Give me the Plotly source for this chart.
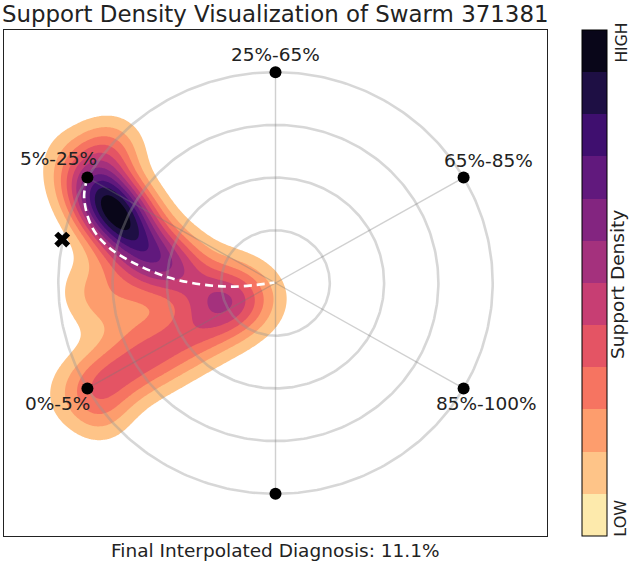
import numpy as np
import plotly.graph_objects as go
import plotly.colors as pc

# ---------------- data ----------------
title_text = "Support Density Visualization of Swarm 371381"
xlabel_text = "Final Interpolated Diagnosis: 11.1%"

vertex_angles = [90, 30, -30, -90, -150, 150]
vertex_labels = ["25%-65%", "65%-85%", "85%-100%", "", "0%-5%", "5%-25%"]
ring_radii = [0.25, 0.5, 0.75, 1.0]

# support density components (centre, spreads, rotation, weight)
comp_x = [-0.745, -0.761, -0.502, -0.225, -0.839, -0.677, -0.516, -0.355, -0.194, -0.798, -0.835, -0.683]
comp_y = [0.345, 0.640, 0.097, -0.045, -0.495, -0.410, -0.320, -0.225, -0.131, -0.642, -0.036, -0.107]
comp_sa = [0.19, 0.105, 0.14, 0.15, 0.14, 0.14, 0.14, 0.14, 0.14, 0.10, 0.12, 0.14]
comp_sb = [0.11, 0.105, 0.11, 0.12, 0.115, 0.115, 0.115, 0.115, 0.115, 0.10, 0.12, 0.14]
comp_ang = [-52, 0, -25, -10, 29.4, 29.4, 29.4, 29.4, 29.4, 0, 0, 0]
comp_w = [1.0, 0.22, 0.40, 0.30, 0.23, 0.19, 0.19, 0.19, 0.16, 0.10, 0.13, 0.13]

# interpolated path of the swarm (dashed)
path_x = [-0.866, -0.881, -0.844, -0.766, -0.647, -0.491, -0.339, -0.188, -0.005]
path_y = [0.500, 0.405, 0.263, 0.168, 0.092, 0.026, -0.007, -0.017, 0.002]

final_x = [-0.982]
final_y = [0.206]

# ---------------- density grid ----------------
gx = np.linspace(-1.25, 1.25, 321)
gy = np.linspace(-1.2, 1.2, 309)
XX, YY = np.meshgrid(gx, gy)
Z = np.zeros_like(XX)
for cx, cy, sa, sb, ang, w in zip(comp_x, comp_y, comp_sa, comp_sb, comp_ang, comp_w):
    t = np.deg2rad(ang)
    dx, dy = XX - cx, YY - cy
    u = dx * np.cos(t) + dy * np.sin(t)
    v = -dx * np.sin(t) + dy * np.cos(t)
    Z += w * np.exp(-0.5 * ((u / sa) ** 2 + (v / sb) ** 2))
Z = Z / Z.max()

n_bands = 12
band_cols = pc.sample_colorscale("Magma", [1 - (k + 0.5) / n_bands for k in range(n_bands)])  # low -> high

contour_scale = [[0, "rgb(255,255,255)"]] + [[k / 11, band_cols[k]] for k in range(1, 12)]
cbar_scale = []
for k in range(n_bands):
    cbar_scale.append([k / n_bands, band_cols[k]])
    cbar_scale.append([(k + 1) / n_bands, band_cols[k]])

FONT = "DejaVu Sans"
TXT = "#222222"

fig = go.Figure()
fig.add_trace(go.Contour(
    x=gx, y=gy, z=Z,
    contours=dict(start=1 / 12, end=11 / 12, size=1 / 12, coloring="fill", showlines=False),
    line=dict(width=0), colorscale=contour_scale, showscale=False, hoverinfo="skip",
))

# rings
th = np.linspace(0, 2 * np.pi, 361)
for r in ring_radii:
    fig.add_trace(go.Scatter(x=r * np.cos(th), y=r * np.sin(th), mode="lines",
                             line=dict(color="rgba(150,150,150,0.38)", width=2.6),
                             hoverinfo="skip", showlegend=False))
# spokes
vx = np.cos(np.deg2rad(vertex_angles))
vy = np.sin(np.deg2rad(vertex_angles))
for x1, y1 in zip(vx, vy):
    fig.add_trace(go.Scatter(x=[0, x1], y=[0, y1], mode="lines",
                             line=dict(color="rgba(120,120,120,0.35)", width=1.4),
                             hoverinfo="skip", showlegend=False))

# dashed path
fig.add_trace(go.Scatter(x=path_x, y=path_y, mode="lines",
                         line=dict(color="white", width=2.6, dash="8px,5px", shape="spline"),
                         hoverinfo="skip", showlegend=False))

# vertices
fig.add_trace(go.Scatter(x=vx, y=vy, mode="markers",
                         marker=dict(color="black", size=12), hoverinfo="skip", showlegend=False))

# final diagnosis marker
fig.add_trace(go.Scatter(x=final_x, y=final_y, mode="markers",
                         marker=dict(color="black", size=14, symbol="x", line=dict(width=0)),
                         hoverinfo="skip", showlegend=False))

# colorbar carrier
fig.add_trace(go.Scatter(x=[-5, -5], y=[-5, -5], mode="markers",
                         marker=dict(size=0.1, color=[0, n_bands], cmin=0, cmax=n_bands,
                                     colorscale=cbar_scale, showscale=True,
                                     colorbar=dict(x=1.0645, xanchor="left", xpad=0, ypad=0,
                                                   y=0.5, yanchor="middle", len=1, lenmode="fraction",
                                                   thickness=25, thicknessmode="pixels",
                                                   outlinewidth=1, outlinecolor="black",
                                                   showticklabels=False, ticks="")),
                         hoverinfo="skip", showlegend=False))

label_shift_x = [0, 25, 23, 0, -30, -29]
label_shift_y = [18, 17, -15, 0, -15, 19]
annotations = []
for x1, y1, lab, sx, sy in zip(vx, vy, vertex_labels, label_shift_x, label_shift_y):
    if lab:
        annotations.append(dict(x=x1, y=y1, xref="x", yref="y", text=lab, showarrow=False,
                                xanchor="center", yanchor="middle",
                                xshift=sx, yshift=sy, font=dict(family=FONT, size=18.5, color=TXT)))

annotations += [
    dict(x=0.5, y=1, xref="paper", yref="paper", xanchor="center", yanchor="bottom", yshift=1,
         text=title_text, showarrow=False, font=dict(family=FONT, size=22.9, color=TXT)),
    dict(x=0.5, y=0, xref="paper", yref="paper", xanchor="center", yanchor="top", yshift=-2,
         text=xlabel_text, showarrow=False, font=dict(family=FONT, size=18.5, color=TXT)),
    dict(x=1.138, y=0.975, xref="paper", yref="paper", xanchor="center", yanchor="middle",
         text="HIGH", textangle=-90, showarrow=False, font=dict(family=FONT, size=15.5, color=TXT)),
    dict(x=1.136, y=0.036, xref="paper", yref="paper", xanchor="center", yanchor="middle",
         text="LOW", textangle=-90, showarrow=False, font=dict(family=FONT, size=16, color=TXT)),
    dict(x=1.129, y=0.496, xref="paper", yref="paper", xanchor="center", yanchor="middle",
         text="Support Density", textangle=-90, showarrow=False,
         font=dict(family=FONT, size=18.5, color=TXT)),
]

fig.update_layout(
    width=633, height=564,
    margin=dict(l=4, r=86, t=30, b=28),
    paper_bgcolor="white", plot_bgcolor="white",
    showlegend=False,
    annotations=annotations,
    xaxis=dict(range=[-1.25, 1.25], showgrid=False, zeroline=False, showticklabels=False,
               ticks="", showline=True, mirror=True, linecolor="#222", linewidth=1.2, fixedrange=True),
    yaxis=dict(range=[-1.2, 1.2], showgrid=False, zeroline=False, showticklabels=False,
               ticks="", showline=True, mirror=True, linecolor="#222", linewidth=1.2, fixedrange=True),
)

fig.write_html("out.html", config={"displayModeBar": False},
               post_script="document.body.style.margin='0';document.body.style.padding='0';")
